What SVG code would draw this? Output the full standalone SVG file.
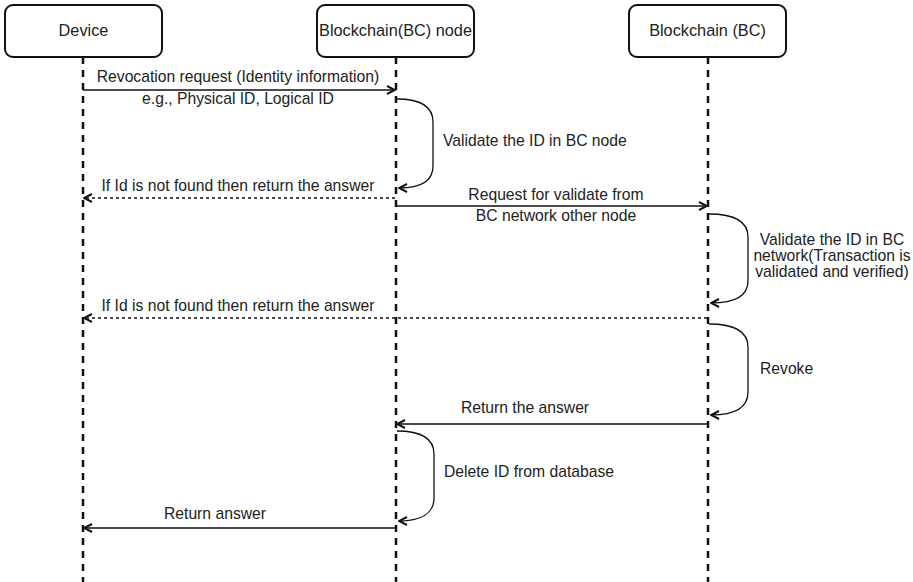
<svg xmlns="http://www.w3.org/2000/svg" width="913" height="582" viewBox="0 0 913 582">
  <defs>
    <marker id="open" viewBox="0 0 10 10" refX="9" refY="5" markerWidth="10" markerHeight="10" markerUnits="userSpaceOnUse" orient="auto">
      <path d="M1 1 L9 5 L1 9" fill="none" stroke="#111" stroke-width="2"/>
    </marker>
    <style>
      .box { fill: #fff; stroke: #111; stroke-width: 2; }
      .life { stroke: #111; stroke-width: 2.5; stroke-dasharray: 7 6; fill: none; }
      .msg { stroke: #111; stroke-width: 1.3; fill: none; marker-end: url(#open); }
      .ret { stroke: #111; stroke-width: 1.3; stroke-dasharray: 3 3; fill: none; marker-end: url(#open); }
      .loop { stroke: #111; stroke-width: 1.3; fill: none; marker-end: url(#open); }
      text { font-family: "Liberation Sans", Arial, sans-serif; font-size: 15.7px; fill: #222; }
      .t { font-size: 16.3px; }
      .c { text-anchor: middle; }
    </style>
  </defs>
  <rect width="913" height="582" fill="#fff"/>

  <!-- lifelines -->
  <g id="lifelines">
    <line class="life" x1="83" y1="57" x2="83" y2="582"/>
    <line class="life" x1="396" y1="57" x2="396" y2="582"/>
    <line class="life" x1="708" y1="57" x2="708" y2="582"/>
  </g>

  <!-- participants -->
  <g id="device">
    <rect class="box" x="5" y="5" width="157" height="52" rx="8"/>
    <text class="c t" x="83.5" y="36">Device</text>
  </g>
  <g id="bc-node">
    <rect class="box" x="317" y="5" width="157" height="52" rx="8"/>
    <text class="c t" x="395.5" y="36">Blockchain(BC) node</text>
  </g>
  <g id="blockchain">
    <rect class="box" x="629" y="5" width="157" height="52" rx="8"/>
    <text class="c t" x="707.5" y="36">Blockchain (BC)</text>
  </g>

  <!-- messages -->
  <g id="connectors">
    <line class="msg" x1="83" y1="90" x2="395" y2="90"/>
    <path class="loop" d="M397 99 C420 99 433 106 433 122 L433 166 C433 182 420 188 399 188"/>
    <line class="ret" x1="395" y1="198" x2="84" y2="198"/>
    <line class="msg" x1="396" y1="206" x2="707" y2="206"/>
    <path class="loop" d="M709 214 C734 214 748 221 748 237 L748 281 C748 297 734 303 711 303"/>
    <line class="ret" x1="707" y1="318" x2="84" y2="318"/>
    <path class="loop" d="M709 324 C734 324 748 331 748 347 L748 392 C748 408 734 415 711 415"/>
    <line class="msg" x1="707" y1="424" x2="397" y2="424"/>
    <path class="loop" d="M397 431 C420 431 434 438 434 454 L434 498 C434 514 420 521 399 521"/>
    <line class="msg" x1="395" y1="528" x2="84" y2="528"/>
  </g>

  <!-- message labels -->
  <g id="labels">
    <text class="c" x="238" y="82">Revocation request (Identity information)</text>
    <text class="c" x="238" y="104">e.g., Physical ID, Logical ID</text>
    <text x="443" y="146">Validate the ID in BC node</text>
    <text class="c" x="238" y="191">If Id is not found then return the answer</text>
    <text class="c" x="556" y="200">Request for validate from</text>
    <text class="c" x="556" y="221">BC network other node</text>
    <text class="c" x="832" y="245">Validate the ID in BC</text>
    <text class="c" x="832" y="261">network(Transaction is</text>
    <text class="c" x="832" y="277">validated and verified)</text>
    <text class="c" x="238" y="311">If Id is not found then return the answer</text>
    <text x="760" y="374">Revoke</text>
    <text class="c" x="525" y="413">Return the answer</text>
    <text x="444" y="477">Delete ID from database</text>
    <text class="c" x="215" y="519">Return answer</text>
  </g>
</svg>
